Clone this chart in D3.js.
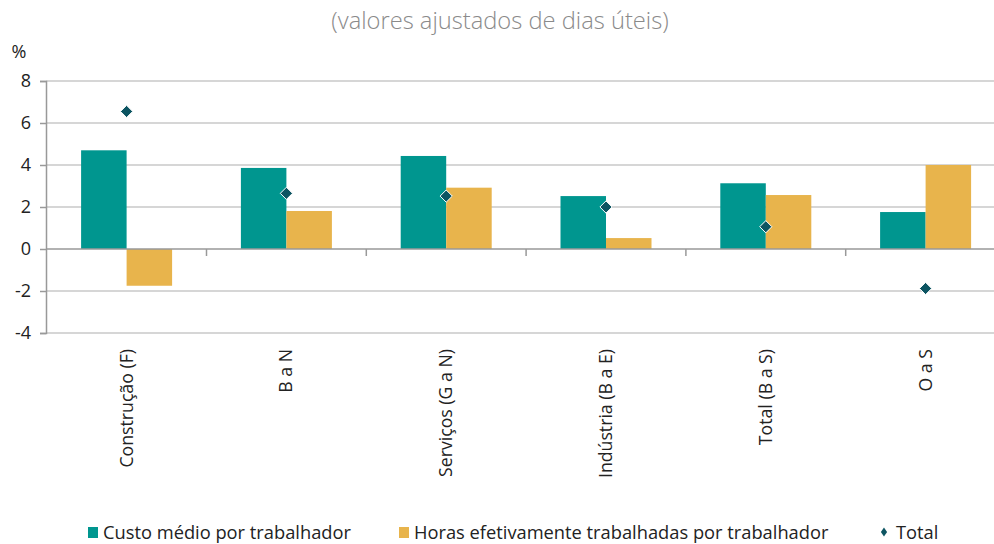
<!DOCTYPE html>
<html>
<head>
<meta charset="utf-8">
<script src="https://cdn.jsdelivr.net/npm/d3@7"></script>
<style>
  body { margin: 0; background: #fff; }
  text { font-family: "Open Sans", "Noto Sans", sans-serif; }
</style>
</head>
<body>
<div id="chart"></div>
<script>
// data
var categories = ["Construção (F)", "B a N", "Serviços (G a N)", "Indústria (B a E)", "Total (B a S)", "O a S"];
var custo = [4.7, 3.86, 4.43, 2.52, 3.13, 1.76];
var horas = [-1.75, 1.81, 2.92, 0.52, 2.57, 4.0];
var total = [6.55, 2.65, 2.52, 2.0, 1.06, -1.88];
var yTicks = [-4, -2, 0, 2, 4, 6, 8];
var seriesNames = ["Custo médio por trabalhador", "Horas efetivamente trabalhadas por trabalhador", "Total"];

var width = 994, height = 544;
var tealColor = "#00968f", goldColor = "#e8b44c", dotColor = "#0d5562";

var svg = d3.select("#chart")
    .append("svg")
    .attr("width", width)
    .attr("height", height);

// title
svg.append("text")
    .attr("x", 500)
    .attr("y", 29)
    .attr("text-anchor", "middle")
    .style("font-size", "23.7px")
    .style("font-weight", 300)
    .attr("fill", "#8a8a8a")
    .text("(valores ajustados de dias úteis)");

svg.append("text")
    .attr("x", 19)
    .attr("y", 58)
    .attr("text-anchor", "middle")
    .style("font-size", "18px")
    .attr("fill", "#222")
    .text("%");

var x = d3.scaleBand()
    .domain(categories)
    .range([46.7, 46.7 + 6 * 159.8])
    .paddingInner(0)
    .paddingOuter(0);

var y = d3.scaleLinear()
    .domain([-4, 8])
    .range([333, 81]);

var barW = 45.5;

// gridlines
svg.append("g")
    .selectAll("line")
    .data(yTicks.filter(function(d) { return d != 0; }))
    .enter().append("line")
    .attr("x1", 46)
    .attr("x2", width)
    .attr("y1", function(d) { return y(d); })
    .attr("y2", function(d) { return y(d); })
    .attr("stroke", "#c9c9c9")
    .attr("stroke-width", 1.5);

// left axis
var yAxis = svg.append("g")
    .attr("transform", "translate(46,0)")
    .call(d3.axisLeft(y).tickValues(yTicks).tickSize(6).tickPadding(9)
        .tickFormat(function(d) { return String(d); }));
yAxis.select(".domain").attr("stroke", "#999").attr("stroke-width", 1.5);
yAxis.selectAll(".tick line").attr("stroke", "#999").attr("stroke-width", 1.5);
yAxis.selectAll(".tick text")
    .attr("fill", "#222")
    .style("font-size", "18px")
    .style("font-family", "'Open Sans', 'Noto Sans', sans-serif");

// bars
var groups = svg.append("g")
    .selectAll("g")
    .data(categories)
    .enter().append("g");

groups.append("rect")
    .attr("x", function(d) { return x(d) + x.bandwidth() / 2 - barW; })
    .attr("width", barW)
    .attr("y", function(d, i) { return y(Math.max(0, custo[i])); })
    .attr("height", function(d, i) { return Math.abs(y(custo[i]) - y(0)); })
    .attr("fill", tealColor);

groups.append("rect")
    .attr("x", function(d) { return x(d) + x.bandwidth() / 2; })
    .attr("width", barW)
    .attr("y", function(d, i) { return y(Math.max(0, horas[i])); })
    .attr("height", function(d, i) { return Math.abs(y(horas[i]) - y(0)); })
    .attr("fill", goldColor);

// zero axis with category ticks
var xAxis = svg.append("g")
    .attr("transform", "translate(0," + y(0) + ")");
xAxis.append("line")
    .attr("x1", 46)
    .attr("x2", width)
    .attr("stroke", "#999")
    .attr("stroke-width", 1.5);
xAxis.selectAll(".sep")
    .data(categories.slice(1))
    .enter().append("line")
    .attr("class", "sep")
    .attr("x1", function(d) { return x(d); })
    .attr("x2", function(d) { return x(d); })
    .attr("y1", 0)
    .attr("y2", 7)
    .attr("stroke", "#999")
    .attr("stroke-width", 1.5);

// category labels (rotated)
svg.append("g")
    .selectAll("text")
    .data(categories)
    .enter().append("text")
    .attr("transform", function(d) {
        return "translate(" + (x(d) + x.bandwidth() / 2 + 6) + ",349) rotate(-90)";
    })
    .attr("text-anchor", "end")
    .style("font-size", "17.7px")
    .attr("fill", "#222")
    .text(function(d) { return d; });

// Total markers
var diamond = d3.symbol().type(d3.symbolDiamond2).size(95);
svg.append("g")
    .selectAll("path")
    .data(categories)
    .enter().append("path")
    .attr("d", diamond)
    .attr("transform", function(d, i) {
        return "translate(" + (x(d) + x.bandwidth() / 2) + "," + y(total[i]) + ")";
    })
    .attr("fill", dotColor)
    .attr("stroke", "#fff")
    .attr("stroke-width", 1);

// legend
var legend = svg.append("g").attr("transform", "translate(0,533)");
var legendX = [88, 399, 878];
legend.append("rect").attr("x", legendX[0]).attr("y", -6).attr("width", 10).attr("height", 11).attr("fill", tealColor);
legend.append("rect").attr("x", legendX[1]).attr("y", -6).attr("width", 10).attr("height", 11).attr("fill", goldColor);
legend.append("path")
    .attr("d", d3.symbol().type(d3.symbolDiamond2).size(50))
    .attr("transform", "translate(" + (legendX[2] + 6) + ",-1) scale(0.7,1)")
    .attr("fill", dotColor);
legend.selectAll(".lt")
    .data(seriesNames)
    .enter().append("text")
    .attr("class", "lt")
    .attr("x", function(d, i) { return legendX[i] + (i == 2 ? 18 : 15); })
    .attr("y", 6)
    .style("font-size", "18.3px")
    .attr("fill", "#222")
    .text(function(d) { return d; });
</script>
</body>
</html>
